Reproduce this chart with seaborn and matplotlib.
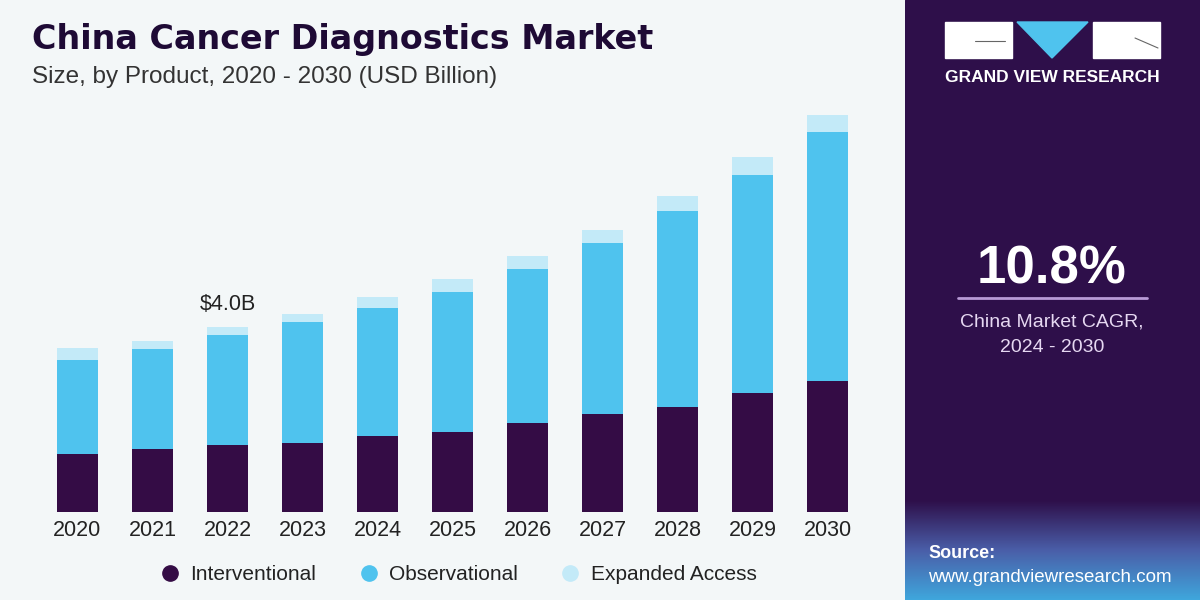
import numpy as np
import pandas as pd
import matplotlib
matplotlib.use('Agg')
import matplotlib.pyplot as plt
import seaborn as sns
from matplotlib.lines import Line2D
from matplotlib.patches import Rectangle, Polygon

# data (USD billion)
years = ['2020', '2021', '2022', '2023', '2024', '2025', '2026', '2027', '2028', '2029', '2030']
interventional = [1.25, 1.36, 1.45, 1.49, 1.64, 1.73, 1.92, 2.12, 2.27, 2.57, 2.83]
observational = [2.03, 2.16, 2.38, 2.62, 2.77, 3.03, 3.33, 3.70, 4.24, 4.71, 5.38]
expanded_access = [0.26, 0.17, 0.17, 0.17, 0.24, 0.28, 0.28, 0.28, 0.32, 0.39, 0.37]
series_names = ['Interventional', 'Observational', 'Expanded Access']

DARK = '#340c45'
BLUE = '#4fc3ee'
LIGHT = '#c3eaf8'
BG = '#f3f7f8'
PANEL = '#2e0f4a'

df = pd.DataFrame({'Year': years, 'Interventional': interventional,
                   'Observational': observational, 'Expanded Access': expanded_access})
df['lvl1'] = df['Interventional']
df['lvl2'] = df['lvl1'] + df['Observational']
df['lvl3'] = df['lvl2'] + df['Expanded Access']

sns.set_theme(style='white')
plt.rcParams['font.family'] = ['Liberation Sans', 'DejaVu Sans']

fig = plt.figure(figsize=(12, 6), dpi=100)
fig.patch.set_facecolor(BG)

ax = fig.add_axes([40 / 1200, 88 / 600, 825 / 1200, 412 / 600])
ax.set_facecolor(BG)

# stacked bars drawn as overlapping cumulative totals
for col, c in (('lvl3', LIGHT), ('lvl2', BLUE), ('lvl1', DARK)):
    sns.barplot(data=df, x='Year', y=col, color=c, width=0.55, saturation=1, linewidth=0, ax=ax)

ax.set_xlim(-0.5, len(years) - 0.5)
ax.set_ylim(0, 412 / 46.25)
ax.set_xlabel('')
ax.set_ylabel('')
ax.set_yticks([])
for s in ax.spines.values():
    s.set_visible(False)
ax.tick_params(axis='x', length=0, pad=6, labelsize=15.5, colors='#222222')

ax.text(2, df['lvl3'][2] + 0.25, '$4.0B', ha='center', va='bottom', fontsize=15.5, color='#222222')

# titles
fig.text(32 / 1200, 1 - 40 / 600, 'China Cancer Diagnostics Market', fontsize=24, fontweight='heavy',
         color='#1e0a35', family='DejaVu Sans', va='center')
fig.text(32 / 1200, 1 - 77 / 600, 'Size, by Product, 2020 - 2030 (USD Billion)', fontsize=17.5,
         color='#333333', va='center')

# legend
handles = [Line2D([], [], marker='o', ls='', markersize=11, color=c) for c in (DARK, BLUE, LIGHT)]
fig.legend(handles, series_names, loc='center', bbox_to_anchor=(453 / 1200, 1 - 575 / 600), ncol=3,
           frameon=False, fontsize=15, handletextpad=0.0, columnspacing=1.5, labelcolor='#222222')

# right panel
pax = fig.add_axes([905 / 1200, 0, 295 / 1200, 1])
pax.set_xlim(905, 1200)
pax.set_ylim(600, 0)
pax.axis('off')
pax.add_patch(Rectangle((905, 0), 295, 600, color=PANEL))
grad = np.linspace(0, 1, 100)[:, None]
cmap = matplotlib.colors.LinearSegmentedColormap.from_list('g', [PANEL, '#4a5ea8', '#3fa6dc'])
pax.imshow(grad, extent=(905, 1200, 600, 500), cmap=cmap, aspect='auto', zorder=1)

pax.add_patch(Rectangle((945, 22), 67, 36, color='white', zorder=2))
pax.add_patch(Rectangle((1093, 22), 67, 36, color='white', zorder=2))
pax.add_patch(Polygon([(1017, 22), (1088, 22), (1052, 58)], color='#4fc3ee', zorder=2))
pax.plot([975, 1005], [41, 41], color='#666666', lw=0.8, zorder=3)
pax.plot([1135, 1158], [38, 48], color='#666666', lw=0.8, zorder=3)
pax.text(1052, 78, 'GRAND VIEW RESEARCH', ha='center', va='center', color='white',
         fontsize=12.5, fontweight='bold', zorder=3)

pax.text(1052, 270, '10.8%', ha='center', va='center', color='white', fontsize=38, fontweight='bold', zorder=3)
pax.plot([958, 1147], [298, 298], color='#b89ad6', lw=2, zorder=3)
pax.text(1052, 322, 'China Market CAGR,', ha='center', va='center', color='#e6d8f2', fontsize=14, zorder=3)
pax.text(1052, 347, '2024 - 2030', ha='center', va='center', color='#e6d8f2', fontsize=14, zorder=3)

pax.text(928, 553, 'Source:', ha='left', va='center', color='white', fontsize=13, fontweight='bold', zorder=3)
pax.text(928, 577, 'www.grandviewresearch.com', ha='left', va='center', color='white', fontsize=13.5, zorder=3)

fig.savefig('out.png', dpi=100, facecolor=fig.get_facecolor())
